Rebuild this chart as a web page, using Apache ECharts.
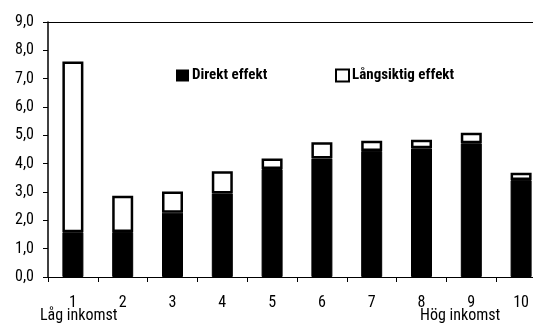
<!DOCTYPE html>
<html><head><meta charset="utf-8">
<script src="https://cdn.jsdelivr.net/npm/echarts@6/dist/echarts.min.js"></script>
<style>html,body{margin:0;padding:0;background:#fff;overflow:hidden}#c{width:546px;height:327px}</style>
</head><body><div id="c"></div>
<script>
var categories = ['1','2','3','4','5','6','7','8','9','10'];
var direktEffekt = [1.58, 1.59, 2.27, 2.95, 3.81, 4.18, 4.45, 4.54, 4.72, 3.42];
var totalEffekt = [7.61, 2.87, 3.02, 3.73, 4.18, 4.76, 4.81, 4.84, 5.09, 3.68];
var langsiktigEffekt = totalEffekt.map(function(t,i){return +(t - direktEffekt[i]).toFixed(2);});
var yTicks = [0,1,2,3,4,5,6,7,8,9];
var FONT = '"Roboto Condensed","DejaVu Sans Condensed",sans-serif';
var chart = echarts.init(document.getElementById('c'));
function legendCfg(name, left, fill, bw){
  return {
    top:63, left:left, itemWidth:13, itemHeight:12, itemGap:0,
    textStyle:{fontFamily:FONT, fontSize:15, fontWeight:'bold', color:'#000', padding:[0,0,0,-2]},
    data:[{name:name, icon:'rect', itemStyle:{color:fill, borderColor:'#000', borderWidth:bw}}]
  };
}
chart.setOption({
  animation:false,
  textStyle:{fontFamily:FONT},
  grid:{left:48, right:0, top:22, bottom:50, containLabel:false},
  legend:[legendCfg('Direkt effekt', 171, '#000', 0), legendCfg('Långsiktig effekt', 330, '#fff', 2)],
  xAxis:[{
    type:'category', data:categories, position:'bottom',
    axisLine:{lineStyle:{color:'#000', width:1}},
    axisTick:{show:true, length:5, lineStyle:{color:'#000'}},
    axisLabel:{color:'#000', fontSize:16, fontFamily:FONT, margin:18}
  },{
    type:'category', data:categories, position:'top',
    axisLine:{show:true, lineStyle:{color:'#000', width:1}},
    axisTick:{show:false}, axisLabel:{show:false}
  }],
  yAxis:{
    type:'value', min:yTicks[0], max:yTicks[yTicks.length-1], interval:1,
    axisLine:{show:true, lineStyle:{color:'#000', width:1.5}},
    axisTick:{show:true, length:5, lineStyle:{color:'#000'}},
    splitLine:{show:false},
    axisLabel:{color:'#000', fontSize:16, fontFamily:FONT, margin:14,
      formatter:function(v){return v.toFixed(1).replace('.',',');}}
  },
  graphic:[
    {type:'text', left:40, top:308, style:{text:'Låg inkomst', font:'16px '+FONT, fill:'#000'}},
    {type:'text', left:420, top:308, style:{text:'Hög inkomst', font:'16px '+FONT, fill:'#000'}}
  ],
  series:[
    {name:'Direkt effekt', type:'bar', stack:'s', barWidth:21, data:direktEffekt,
     itemStyle:{color:'#000', borderColor:'#000', borderWidth:1}},
    {name:'Långsiktig effekt', type:'bar', stack:'s', barWidth:21, data:langsiktigEffekt,
     itemStyle:{color:'#fff', borderColor:'#000', borderWidth:2.5}}
  ]
});
</script></body></html>
